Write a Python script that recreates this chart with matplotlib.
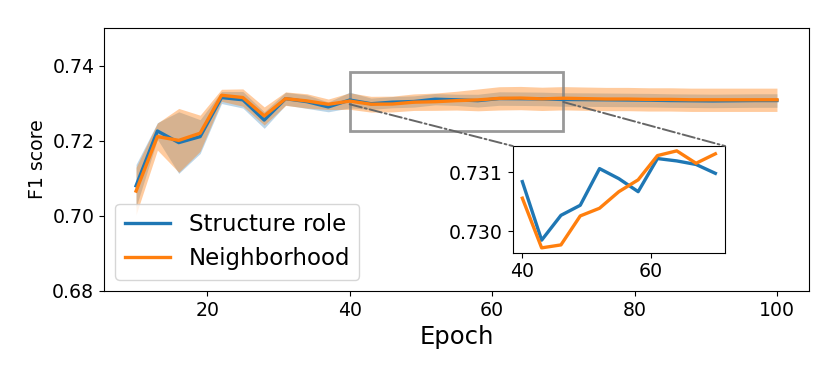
import matplotlib
matplotlib.use('Agg')
import matplotlib.pyplot as plt
from matplotlib.patches import Rectangle, ConnectionPatch
import numpy as np

# epochs 10..100 in steps of 3
epochs = list(range(10, 101, 3))

# structure role: mean and std
struct_mean = [0.7080, 0.7226, 0.7195, 0.7211, 0.7315, 0.7309, 0.7255, 0.7312, 0.7304, 0.7290,
               0.73084, 0.72985, 0.73027, 0.73044, 0.73106, 0.73089, 0.73067, 0.73123, 0.73119, 0.73113,
               0.73098, 0.73095, 0.7309, 0.73085, 0.7308, 0.7307, 0.73065, 0.7306, 0.73065, 0.7307, 0.7307]
struct_std = [0.0057, 0.0022, 0.0082, 0.0045, 0.0016, 0.0022, 0.0022, 0.0017, 0.0018, 0.0013,
              0.0021, 0.0015, 0.0015, 0.0015, 0.0015, 0.0015, 0.0017, 0.0018, 0.0018, 0.0018,
              0.0018, 0.0018, 0.0018, 0.0018, 0.0018, 0.0018, 0.0018, 0.0018, 0.0018, 0.0018, 0.0018]

# neighborhood: mean and std
neigh_mean = [0.7066, 0.7211, 0.7201, 0.7220, 0.7321, 0.7315, 0.7266, 0.7312, 0.7306, 0.7297,
              0.73056, 0.72972, 0.72977, 0.73026, 0.73039, 0.73067, 0.73087, 0.73128, 0.73136, 0.73115,
              0.73131, 0.7312, 0.7311, 0.7311, 0.7310, 0.7310, 0.7309, 0.7309, 0.7309, 0.7309, 0.7309]
neigh_std = [0.0063, 0.0036, 0.0085, 0.0048, 0.0016, 0.0023, 0.0024, 0.0018, 0.0019, 0.0014,
             0.0022, 0.0021, 0.0021, 0.0022, 0.0023, 0.0025, 0.0029, 0.0031, 0.0031, 0.0031,
             0.0031, 0.0031, 0.0031, 0.0031, 0.0031, 0.0031, 0.0031, 0.0031, 0.0031, 0.0031, 0.0031]

x = np.array(epochs)
s_m = np.array(struct_mean)
s_s = np.array(struct_std)
n_m = np.array(neigh_mean)
n_s = np.array(neigh_std)

fig = plt.figure(figsize=(8.3, 3.74), dpi=100)
ax = fig.add_axes([0.1253, 0.222, 0.8494, 0.703])

ax.fill_between(x, s_m - s_s, s_m + s_s, color='tab:blue', alpha=0.3, lw=0)
ax.fill_between(x, n_m - n_s, n_m + n_s, color='tab:orange', alpha=0.4, lw=0)
ax.plot(x, s_m, color='tab:blue', lw=2.4, label='Structure role')
ax.plot(x, n_m, color='tab:orange', lw=2.4, label='Neighborhood')

ax.set_ylim(0.68, 0.75)
ax.set_yticks([0.68, 0.70, 0.72, 0.74])
ax.set_xticks([20, 40, 60, 80, 100])
ax.tick_params(labelsize=13.6)
ax.set_xlabel('Epoch', fontsize=17.5)
ax.set_ylabel('F1 score', fontsize=13.6)
ax.legend(loc='lower left', fontsize=16.5)

# zoom box on main axes
ax.add_patch(Rectangle((40, 0.7225), 30, 0.0158, fill=False, ec='0.5', lw=2, alpha=0.8))

# inset
axins = fig.add_axes([0.6177, 0.3243, 0.2558, 0.2853])
sel = (x >= 40) & (x <= 70)
axins.plot(x[sel], s_m[sel], color='tab:blue', lw=2.4)
axins.plot(x[sel], n_m[sel], color='tab:orange', lw=2.4)
axins.set_xticks([40, 60])
axins.set_yticks([0.730, 0.731])
axins.set_yticklabels(['0.730', '0.731'])
axins.tick_params(labelsize=13.6)

for xa, ya, corner in [(40, 0.7297, (0, 1)), (70, 0.7303, (1, 1))]:
    con = ConnectionPatch(xyA=(xa, ya), coordsA=ax.transData,
                          xyB=corner, coordsB=axins.transAxes,
                          color='0.4', lw=1.4, ls='-.')
    fig.add_artist(con)

fig.savefig('out.png', dpi=100)
